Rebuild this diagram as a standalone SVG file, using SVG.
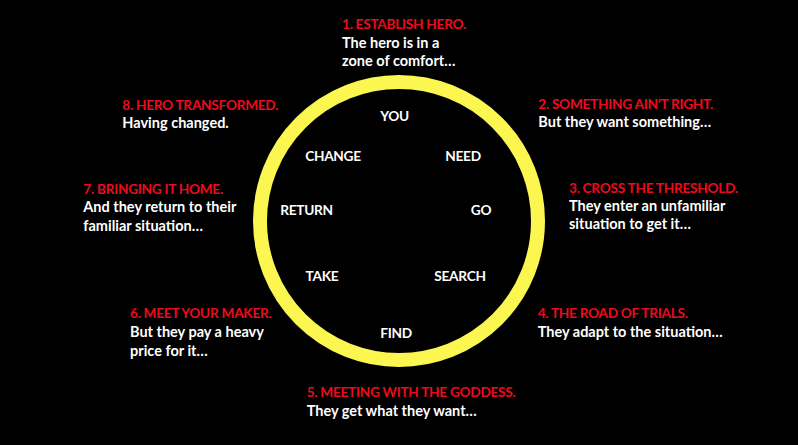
<svg xmlns="http://www.w3.org/2000/svg" width="798" height="445" viewBox="0 0 798 445">
<style>
text{font-family:Lato,"Open Sans","Liberation Sans",sans-serif;font-weight:bold;font-size:14.5px}
.h{fill:#EE0A1E;font-size:13.7px;letter-spacing:-0.3px}
.w{fill:#FFFFFF}
.c{fill:#FFFFFF;text-anchor:middle;font-size:13.7px;letter-spacing:-0.3px}
.ring{fill:none;stroke:#FBF650;stroke-width:14}
</style>
<rect width="798" height="445" fill="#000000"/>
<g id="connectors"></g>
<g id="wheel">
<circle class="ring" cx="399" cy="221" r="139"/>
</g>
<g id="inner-labels">
<text id="you" class="c" x="394.5" y="121">YOU</text>
<text id="need" class="c" x="463" y="160.7">NEED</text>
<text id="go" class="c" x="481" y="215">GO</text>
<text id="search" class="c" x="460" y="280.7">SEARCH</text>
<text id="find" class="c" x="396" y="337.7">FIND</text>
<text id="take" class="c" x="322" y="280.7">TAKE</text>
<text id="return" class="c" x="306.5" y="215">RETURN</text>
<text id="change" class="c" x="333" y="160.7">CHANGE</text>
</g>
<g id="step1">
<text class="h" x="342" y="29">1. ESTABLISH HERO.</text>
<text class="w" x="342" y="47.7">The hero is in a</text>
<text class="w" x="342" y="66">zone of comfort…</text>
</g>
<g id="step2">
<text class="h" x="538.3" y="109.3">2. SOMETHING AIN’T RIGHT.</text>
<text class="w" x="538.3" y="127.3">But they want something…</text>
</g>
<g id="step3">
<text class="h" x="569" y="192.7">3. CROSS THE THRESHOLD.</text>
<text class="w" x="569" y="210.7">They enter an unfamiliar</text>
<text class="w" x="569" y="229.3">situation to get it…</text>
</g>
<g id="step4">
<text class="h" x="537.7" y="318.3">4. THE ROAD OF TRIALS.</text>
<text class="w" x="537.7" y="336.7">They adapt to the situation…</text>
</g>
<g id="step5">
<text class="h" x="306.7" y="397.3">5. MEETING WITH THE GODDESS.</text>
<text class="w" x="306.7" y="415.7">They get what they want…</text>
</g>
<g id="step6">
<text class="h" x="130" y="318.3">6. MEET YOUR MAKER.</text>
<text class="w" x="130" y="336.7">But they pay a heavy</text>
<text class="w" x="130" y="355.7">price for it…</text>
</g>
<g id="step7">
<text class="h" x="83.3" y="194.3">7. BRINGING IT HOME.</text>
<text class="w" x="83.3" y="211.7">And they return to their</text>
<text class="w" x="83.3" y="230.7">familiar situation…</text>
</g>
<g id="step8">
<text class="h" x="122.3" y="110">8. HERO TRANSFORMED.</text>
<text class="w" x="122.3" y="127.7">Having changed.</text>
</g>
</svg>
